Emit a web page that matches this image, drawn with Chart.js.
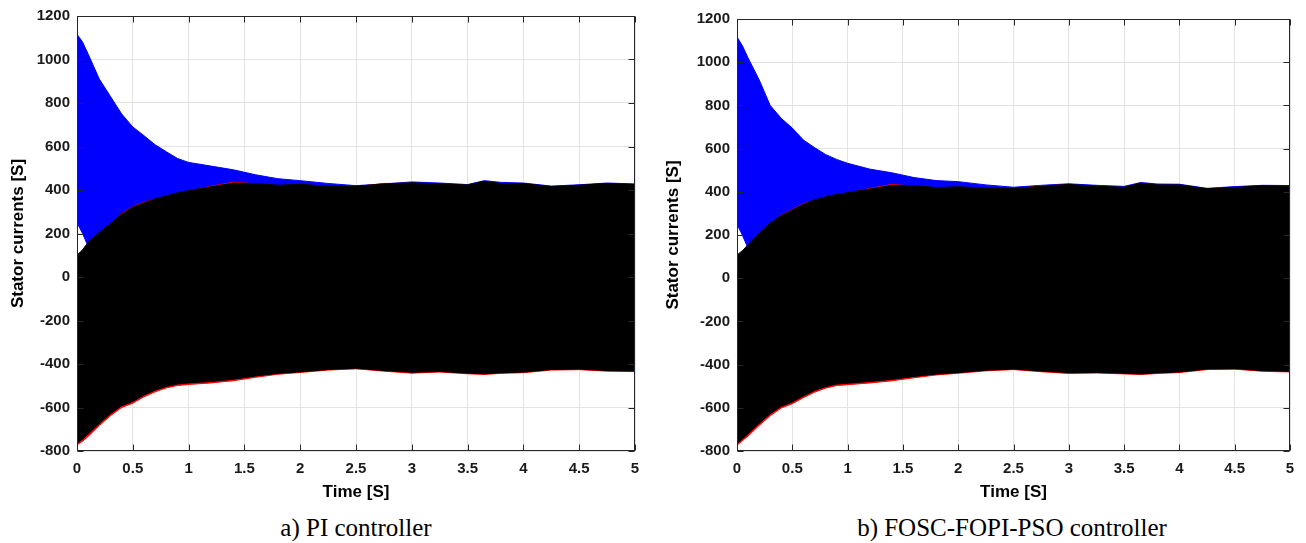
<!DOCTYPE html>
<html>
<head>
<meta charset="utf-8">
<script src="https://cdn.jsdelivr.net/npm/chart.js@4.4.1/dist/chart.umd.min.js"></script>
<style>
  html, body { margin: 0; padding: 0; background: #fff; }
  body { width: 1306px; height: 543px; position: relative; overflow: hidden; }
  canvas { position: absolute; top: 0; }
  .cap { position: absolute; top: 514px; font-family: "Liberation Serif", "Times New Roman", serif; font-size: 25px; line-height: 28px; color: #000; white-space: nowrap; transform: translateX(-50%); }
</style>
</head>
<body>
<canvas id="c1" width="655" height="510" style="left:0px"></canvas>
<canvas id="c2" width="651" height="510" style="left:655px"></canvas>
<div class="cap" style="left:356px">a) PI controller</div>
<div class="cap" style="left:1012px">b) FOSC-FOPI-PSO controller</div>
<script>
// ---- Data (envelopes of the three stator phase currents) ----
const time = [0, 0.05, 0.1, 0.2, 0.3, 0.4, 0.5, 0.6, 0.7, 0.8, 0.9, 1.0, 1.2, 1.4, 1.6, 1.8, 2.0, 2.25, 2.5, 2.75, 3.0, 3.25, 3.5, 3.65, 3.8, 4.0, 4.25, 4.5, 4.75, 5.0];

// a) PI controller
const piBlueUpper  = [1116, 1080, 1025, 910, 830, 750, 690, 650, 608, 576, 545, 527, 510, 493, 470, 452, 443, 430, 420, 428, 437, 432, 425, 443, 435, 432, 418, 424, 432, 428];
const piBlueLower  = [250, 200, 140, -100, -300, -420, -470, -500, -505, -490, -480, -482, -476, -466, -452, -440, -434, -424, -421, -428, -440, -433, -440, -444, -441, -436, -424, -425, -428, -430];
const piRedUpper   = [95, 112, 158, 203, 243, 292, 323, 345, 358, 371, 385, 395, 417, 436, 428, 420, 424, 416, 415, 430, 431, 426, 421, 438, 428, 428, 413, 420, 428, 423];
const piRedLower   = [-772, -755, -733, -683, -638, -600, -580, -551, -528, -510, -499, -494, -487, -477, -461, -447, -439, -428, -422, -433, -442, -437, -445, -448, -443, -440, -428, -426, -433, -435];
const piBlackUpper = [100, 125, 160, 205, 245, 290, 321, 342, 360, 373, 387, 397, 415, 432, 430, 422, 426, 418, 417, 428, 433, 428, 423, 440, 430, 430, 415, 422, 430, 425];
const piBlackLower = [-765, -745, -722, -673, -628, -592, -572, -543, -520, -503, -492, -487, -480, -470, -455, -443, -436, -425, -419, -430, -438, -434, -442, -445, -440, -437, -425, -423, -430, -432];

// b) FOSC-FOPI-PSO controller
const foBlueUpper  = [1117, 1075, 1020, 919, 800, 740, 695, 640, 605, 573, 550, 532, 505, 488, 466, 452, 447, 432, 421, 430, 437, 430, 425, 443, 436, 435, 416, 424, 430, 429];
const foBlueLower  = [250, 198, 138, -100, -300, -420, -470, -500, -505, -490, -478, -481, -474, -464, -452, -441, -435, -425, -422, -428, -439, -435, -438, -442, -439, -433, -420, -420, -427, -429];
const foRedUpper   = [100, 115, 153, 206, 253, 292, 318, 345, 360, 375, 386, 394, 415, 434, 426, 418, 421, 416, 412, 428, 432, 424, 419, 438, 430, 430, 412, 418, 426, 424];
const foRedLower   = [-773, -752, -731, -682, -637, -601, -581, -553, -528, -509, -497, -493, -485, -475, -461, -448, -440, -429, -423, -433, -441, -439, -443, -446, -441, -437, -423, -421, -431, -434];
const foBlackUpper = [107, 128, 155, 208, 255, 290, 316, 342, 362, 377, 388, 396, 413, 430, 428, 420, 423, 418, 414, 426, 434, 426, 421, 440, 432, 432, 414, 420, 428, 426];
const foBlackLower = [-766, -743, -720, -672, -627, -593, -573, -545, -520, -502, -490, -486, -478, -468, -455, -444, -437, -426, -420, -430, -437, -436, -440, -443, -438, -434, -420, -418, -428, -431];

const xTicks = [0, 0.5, 1, 1.5, 2, 2.5, 3, 3.5, 4, 4.5, 5];
const yTicks = [-800, -600, -400, -200, 0, 200, 400, 600, 800, 1000, 1200];

// ---- Helpers ----
const BLUE = '#0000ff', RED = '#ff0000', BLACK = '#000000';
const pts = (t, v) => t.map((x, i) => ({ x: x, y: v[i] }));

function bands(bu, bl, ru, rl, ku, kl) {
  const base = { pointRadius: 0, borderWidth: 1, tension: 0 };
  return [
    Object.assign({}, base, { label: 'ia', data: pts(time, bu), fill: 1, borderColor: BLUE, backgroundColor: BLUE, order: 3 }),
    Object.assign({}, base, { label: 'ia-min', data: pts(time, bl), fill: false, borderColor: BLUE, backgroundColor: BLUE, order: 3 }),
    Object.assign({}, base, { label: 'ib', data: pts(time, ru), fill: 3, borderColor: RED, backgroundColor: RED, order: 2 }),
    Object.assign({}, base, { label: 'ib-min', data: pts(time, rl), fill: false, borderColor: RED, backgroundColor: RED, order: 2 }),
    Object.assign({}, base, { label: 'ic', data: pts(time, ku), fill: 5, borderColor: BLACK, backgroundColor: BLACK, order: 1 }),
    Object.assign({}, base, { label: 'ic-min', data: pts(time, kl), fill: false, borderColor: BLACK, backgroundColor: BLACK, order: 1 })
  ];
}

const boxPlugin = {
  id: 'matlabBox',
  afterDatasetsDraw(chart) {
    const { ctx, chartArea: a, scales: { x, y } } = chart;
    ctx.save();
    ctx.strokeStyle = '#262626';
    ctx.lineWidth = 1;
    const L = Math.round(a.left) + 0.5, R = Math.round(a.right) - 0.5;
    const T = Math.round(a.top) + 0.5, B = Math.round(a.bottom) - 0.5;
    ctx.strokeRect(L, T, R - L, B - T);
    ctx.beginPath();
    const tl = 6;
    x.ticks.forEach(t => {
      const px = Math.round(x.getPixelForValue(t.value)) + 0.5;
      ctx.moveTo(px, B); ctx.lineTo(px, B - tl);
      ctx.moveTo(px, T); ctx.lineTo(px, T + tl);
    });
    y.ticks.forEach(t => {
      const py = Math.round(y.getPixelForValue(t.value)) + 0.5;
      ctx.moveTo(L, py); ctx.lineTo(L + tl, py);
      ctx.moveTo(R, py); ctx.lineTo(R - tl, py);
    });
    ctx.stroke();
    ctx.restore();
  }
};

const tickFont = { family: '"Liberation Sans", Arial, sans-serif', size: 15, weight: 'bold' };
const titleFont = { family: '"Liberation Sans", Arial, sans-serif', size: 17, weight: 'bold' };

function makeChart(id, datasets, yAxisWidth, pad) {
  return new Chart(document.getElementById(id), {
    type: 'line',
    data: { datasets: datasets },
    plugins: [boxPlugin],
    options: {
      responsive: false,
      animation: false,
      devicePixelRatio: 1,
      layout: { padding: pad },
      plugins: { legend: { display: false }, tooltip: { enabled: false } },
      scales: {
        x: {
          type: 'linear', min: 0, max: 5,
          afterBuildTicks: s => { s.ticks = xTicks.map(v => ({ value: v })); },
          afterFit: s => { s.height = 59; },
          ticks: { font: tickFont, color: '#1a1a1a', padding: 9, maxRotation: 0, autoSkip: false, callback: v => String(v) },
          grid: { color: '#e3e3e3', drawTicks: false },
          border: { display: false },
          title: { display: true, text: 'Time [S]', font: titleFont, color: '#000', padding: { top: 0, bottom: 7 } }
        },
        y: {
          type: 'linear', min: -800, max: 1200,
          afterBuildTicks: s => { s.ticks = yTicks.map(v => ({ value: v })); },
          afterFit: s => { s.width = yAxisWidth; },
          ticks: { font: tickFont, color: '#1a1a1a', padding: 7, autoSkip: false, callback: v => String(v) },
          grid: { color: '#e3e3e3', drawTicks: false },
          border: { display: false },
          title: { display: true, text: 'Stator currents [S]', font: titleFont, color: '#000', padding: { top: 8, bottom: 0 } }
        }
      }
    }
  });
}

makeChart('c1', bands(piBlueUpper, piBlueLower, piRedUpper, piRedLower, piBlackUpper, piBlackLower), 77, { top: 15, right: 20, left: 0, bottom: 0 });
makeChart('c2', bands(foBlueUpper, foBlueLower, foRedUpper, foRedLower, foBlackUpper, foBlackLower), 82, { top: 19, right: 16, left: 0, bottom: 0 });
</script>
</body>
</html>
